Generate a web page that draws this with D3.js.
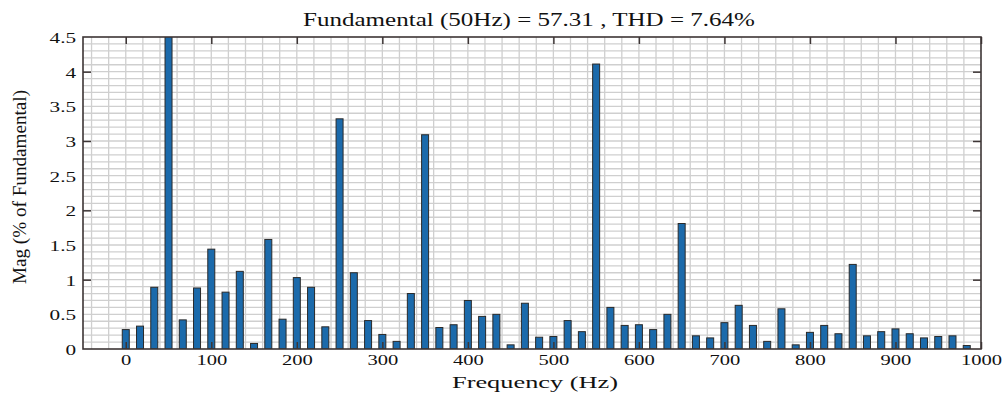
<!DOCTYPE html>
<html lang="en">
<head>
    <meta charset="UTF-8">
    <title>FFT Analysis</title>
    <style>
        body { margin: 0; background: #fff; }
        text { font-family: "Liberation Serif", "Times New Roman", serif; fill: #111; }
    </style>
</head>
<body>
<div id="chart"></div>
<script src="https://d3js.org/d3.v7.min.js"></script>
<script>
    // harmonic spectrum, one bar every 50/3 Hz starting at 0
    const binStep = 50 / 3;
    const magnitudes = [
        0.28, 0.33, 0.89, 100, 0.42, 0.88, 1.44, 0.82, 1.12, 0.08,
        1.58, 0.43, 1.03, 0.89, 0.32, 3.32, 1.10, 0.41, 0.21, 0.11,
        0.80, 3.09, 0.31, 0.35, 0.70, 0.47, 0.50, 0.06, 0.66, 0.17,
        0.18, 0.41, 0.25, 4.11, 0.60, 0.34, 0.35, 0.28, 0.50, 1.81,
        0.19, 0.16, 0.38, 0.63, 0.34, 0.11, 0.58, 0.06, 0.24, 0.34,
        0.22, 1.22, 0.19, 0.25, 0.29, 0.22, 0.16, 0.18, 0.19, 0.05
    ];
    const xTicks = [0, 100, 200, 300, 400, 500, 600, 700, 800, 900, 1000];
    const yTicks = [0, 0.5, 1, 1.5, 2, 2.5, 3, 3.5, 4, 4.5];
    const yMarks = [1, 2, 3, 4];
    const titleText = "Fundamental (50Hz) = 57.31 , THD = 7.64%";

    const data = magnitudes.map((m, i) => ({freq: i * binStep, mag: m}));

    const W = 1005, H = 393;
    const margin = {top: 37, right: 24, bottom: 44, left: 83};
    const width = W - margin.left - margin.right,
        height = H - margin.top - margin.bottom;
    const stretch = 1.37;

    const svg = d3.select("#chart").append("svg")
        .attr("width", W)
        .attr("height", H);

    const x = d3.scaleLinear().domain([-50, 1000]).range([0, width]);
    const y = d3.scaleLinear().domain([0, 4.5]).range([height, 0]);

    const g = svg.append("g")
        .attr("transform", "translate(" + margin.left + "," + margin.top + ")");

    svg.append("clipPath").attr("id", "plot-clip")
        .append("rect").attr("width", width).attr("height", height);

    // grid
    const vGrid = d3.range(-40, 1000, 20);
    const hGrid = d3.range(1, 45).map(d => d / 10);
    g.append("g").selectAll("line")
        .data(vGrid)
        .enter().append("line")
        .attr("x1", d => x(d)).attr("x2", d => x(d))
        .attr("y1", 0).attr("y2", height)
        .attr("stroke", "#cfcfcf").attr("stroke-width", 1.3);
    g.append("g").selectAll("line")
        .data(hGrid)
        .enter().append("line")
        .attr("x1", 0).attr("x2", width)
        .attr("y1", d => y(d)).attr("y2", d => y(d))
        .attr("stroke", "#cfcfcf").attr("stroke-width", 1.3);

    // bars
    const barW = 7;
    g.append("g").attr("clip-path", "url(#plot-clip)")
        .selectAll("rect")
        .data(data)
        .enter().append("rect")
        .attr("x", d => x(d.freq) - barW / 2)
        .attr("y", d => y(d.mag))
        .attr("width", barW)
        .attr("height", d => height - y(d.mag))
        .attr("fill", "#1b6aab")
        .attr("stroke", "#2a2a2a")
        .attr("stroke-width", 1);

    // axes
    const xAxis = g.append("g")
        .attr("transform", "translate(0," + height + ")")
        .call(d3.axisBottom(x).tickValues(xTicks).tickSizeInner(-7).tickSizeOuter(0)
            .tickPadding(5).tickFormat(d3.format("d")));
    const xTop = g.append("g")
        .call(d3.axisTop(x).tickValues(xTicks).tickSizeInner(-7).tickSizeOuter(0).tickFormat(""));
    const yAxis = g.append("g")
        .call(d3.axisLeft(y).tickValues(yTicks).tickSize(0).tickPadding(5).tickFormat(d => d));
    const yMarkL = g.append("g")
        .call(d3.axisLeft(y).tickValues(yMarks).tickSizeInner(-8).tickSizeOuter(0).tickFormat(""));
    const yMarkR = g.append("g")
        .attr("transform", "translate(" + width + ",0)")
        .call(d3.axisRight(y).tickValues(yMarks).tickSizeInner(-8).tickSizeOuter(0).tickFormat(""));

    [xAxis, xTop, yAxis, yMarkL, yMarkR].forEach(a => {
        a.select(".domain").remove();
        a.selectAll("line").attr("stroke", "#3d3535").attr("stroke-width", 1.5);
    });
    xAxis.selectAll("text")
        .style("font-size", "15px")
        .attr("transform", "scale(" + stretch + ",1)");
    yAxis.selectAll("text")
        .style("font-size", "15.5px")
        .attr("dy", "0.36em")
        .attr("transform", "scale(" + stretch + ",1)");

    // frame
    g.append("rect")
        .attr("width", width).attr("height", height)
        .attr("fill", "none")
        .attr("stroke", "#3d3535")
        .attr("stroke-width", 1.6);

    // labels
    svg.append("text")
        .attr("x", 303)
        .attr("y", 26)
        .attr("textLength", 452)
        .attr("lengthAdjust", "spacingAndGlyphs")
        .style("font-size", "18px")
        .text(titleText);

    svg.append("text")
        .attr("x", 452)
        .attr("y", 388)
        .attr("textLength", 166)
        .attr("lengthAdjust", "spacingAndGlyphs")
        .style("font-size", "17px")
        .text("Frequency (Hz)");

    svg.append("text")
        .attr("transform", "translate(26,284) rotate(-90)")
        .attr("textLength", 194)
        .attr("lengthAdjust", "spacingAndGlyphs")
        .style("font-size", "18px")
        .text("Mag (% of Fundamental)");
</script>
</body>
</html>
